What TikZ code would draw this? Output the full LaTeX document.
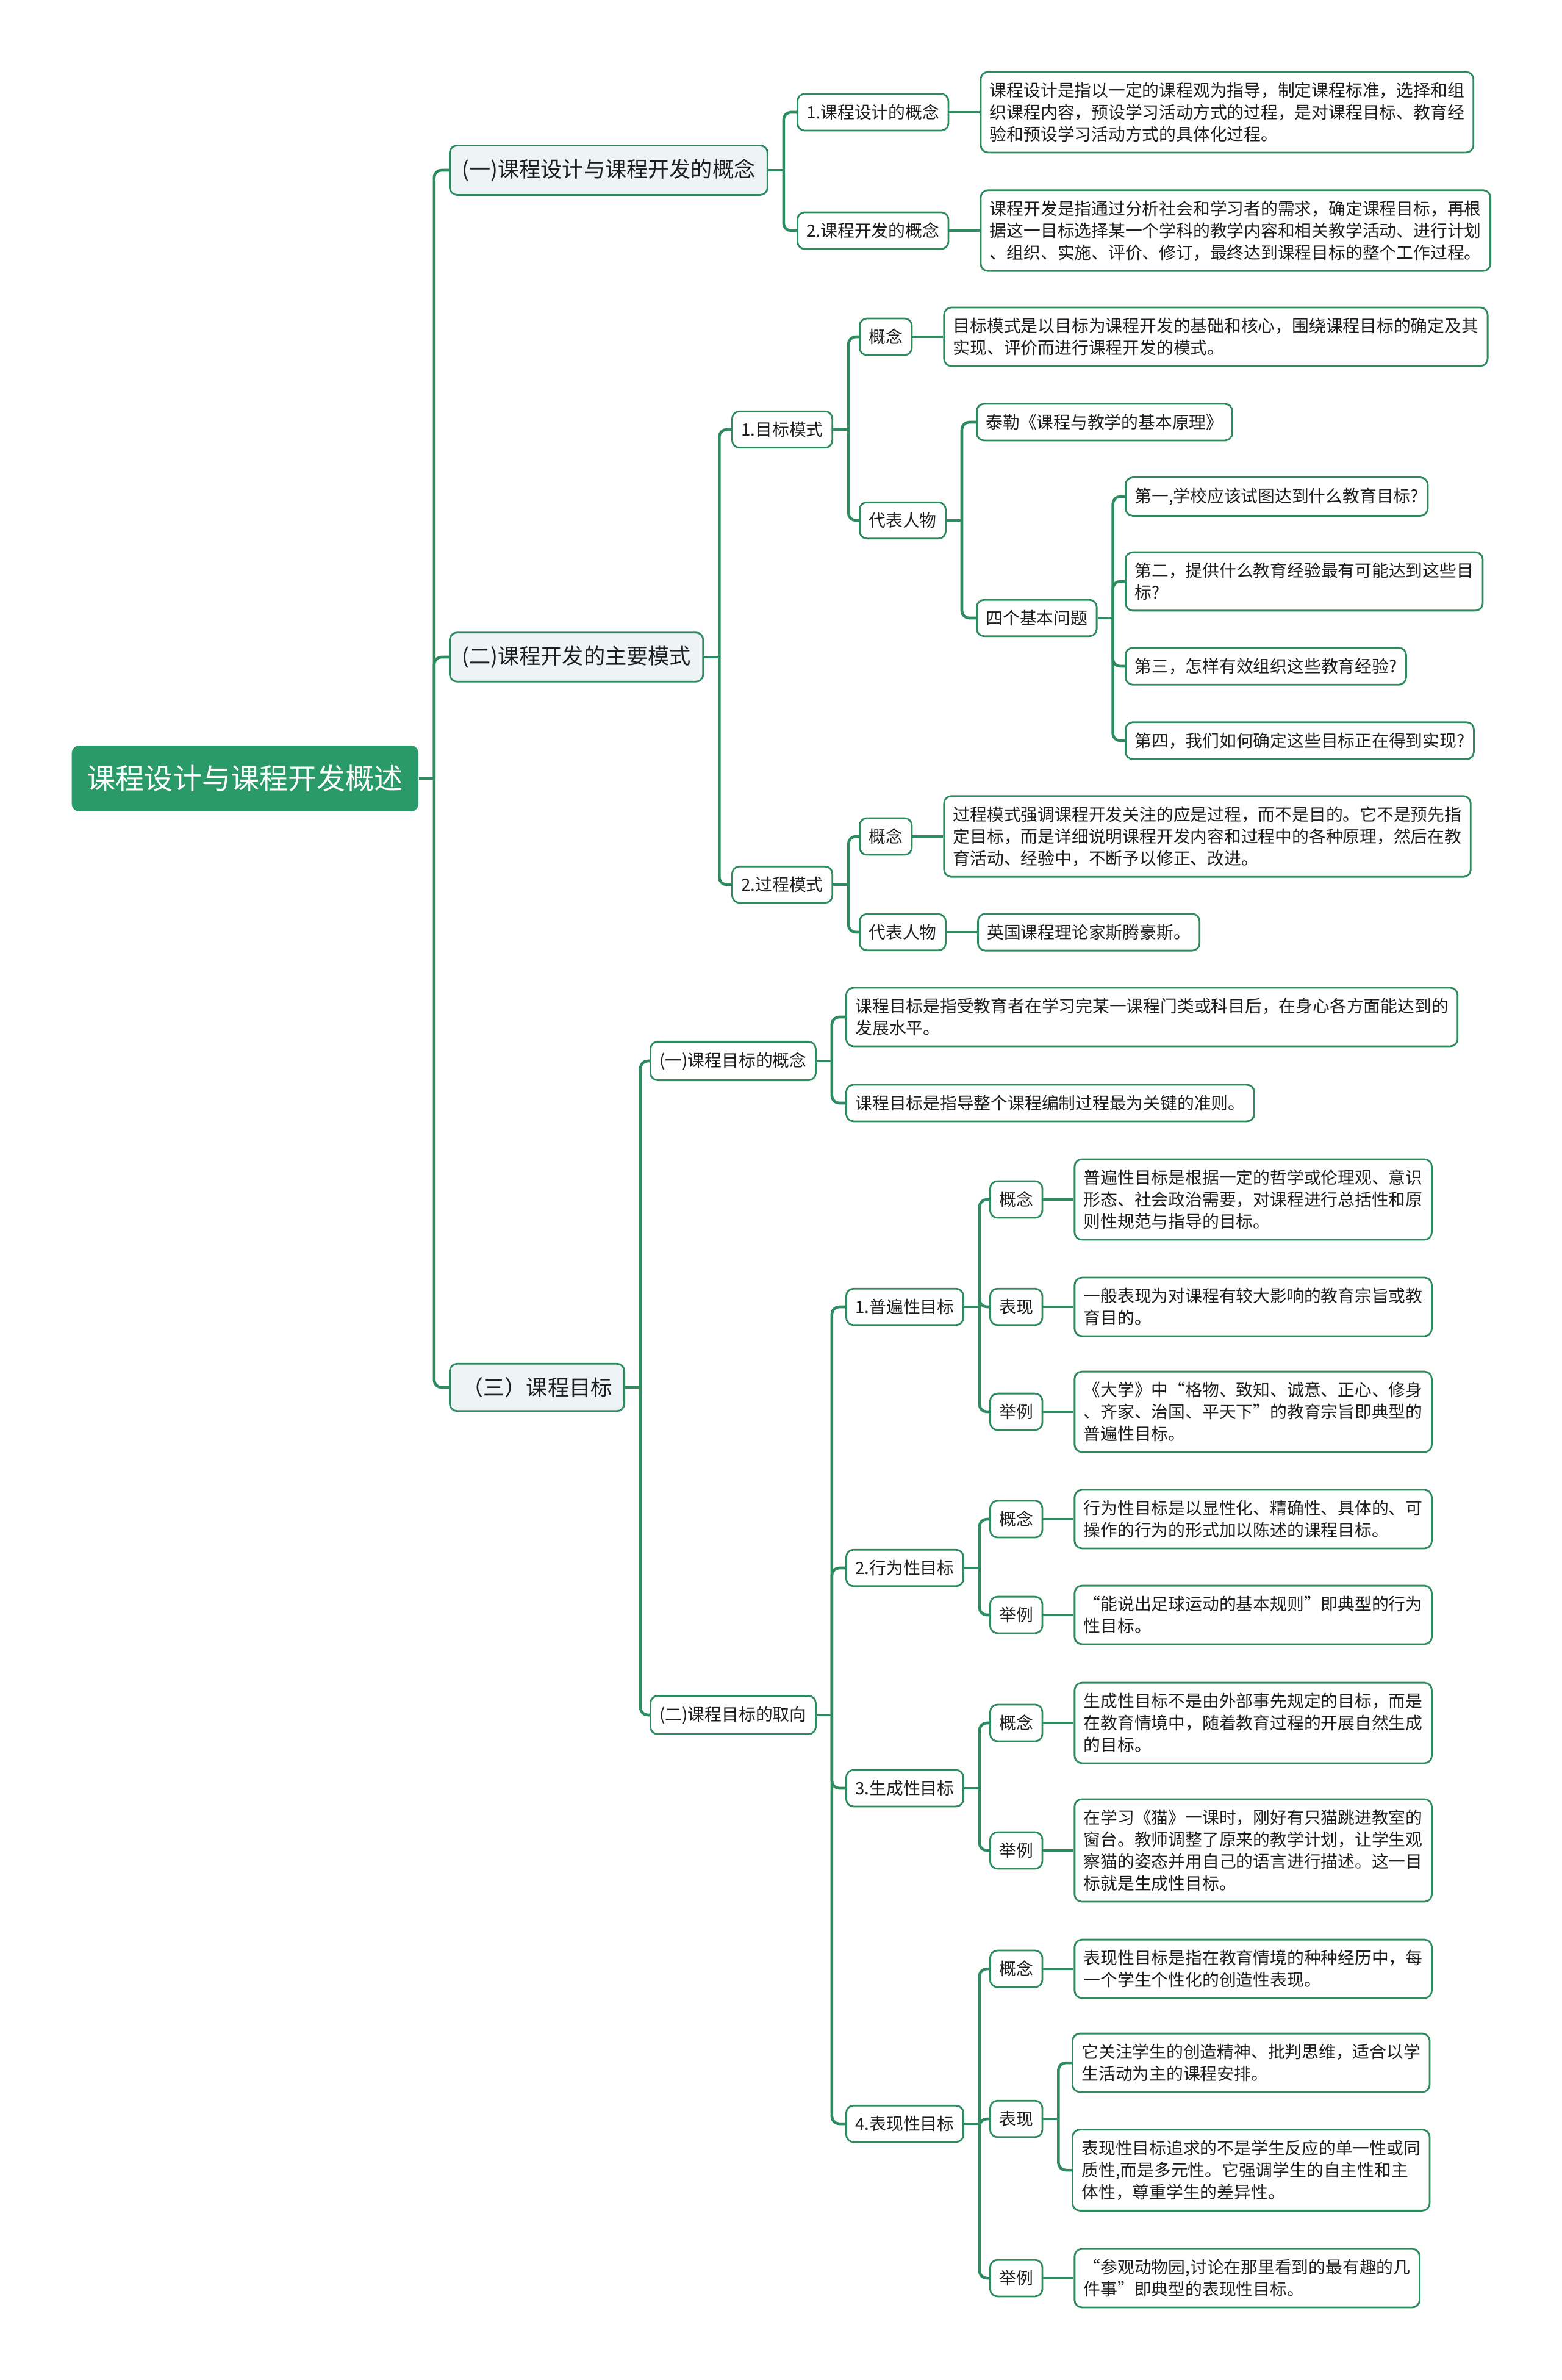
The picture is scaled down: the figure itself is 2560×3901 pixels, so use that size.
\documentclass[tikz,border=0pt]{standalone}
\usepackage{fontspec}
\setmainfont{Noto Sans CJK SC}
\usepackage{tikz}
\usetikzlibrary{positioning}
\definecolor{mapgreen}{HTML}{2E8B60}
\definecolor{rootgreen}{HTML}{2A9A68}
\definecolor{topicfill}{HTML}{EEF3F5}
\definecolor{inkgray}{HTML}{1E1E1E}

\tikzset{
  mapbox/.style={draw=mapgreen, line width=0.8pt, rounded corners=0.12cm, align=left, text=inkgray},
  rootbox/.style={fill=rootgreen, text=white, rounded corners=0.12cm, inner xsep=0.25cm, inner ysep=0.32cm,
    font=\fontsize{13.4pt}{16pt}\selectfont},
  topic/.style={mapbox, fill=topicfill, inner xsep=0.2cm, inner ysep=0.22cm, font=\fontsize{10pt}{12pt}\selectfont},
  leaf/.style={mapbox, fill=white, inner xsep=0.15cm, inner ysep=0.17cm, font=\fontsize{7.9pt}{10.24pt}\selectfont},
  branchline/.style={draw=mapgreen, line width=1.3pt, rounded corners=0.12cm},
}

\begin{document}
\begin{tikzpicture}[x=0.01cm, y=-0.01cm, node distance=0.5cm]
  \useasboundingbox (0,0) rectangle (2560,3901);

  \node[rootbox, anchor=west] (root) at (117,1276) {课程设计与课程开发概述};

  \node[topic, anchor=west] (t1) at (736,279) {(一)课程设计与课程开发的概念};
  \node[topic, anchor=west] (t2) at (736,1077) {(二)课程开发的主要模式};
  \node[topic, anchor=west] (t3) at (736,2274) {（三）课程目标};

  % (一)
  \node[leaf, anchor=west] (d1) at (1306,184) {1.课程设计的概念};
  \node[leaf, right=of d1] (d1x) {课程设计是指以一定的课程观为指导，制定课程标准，选择和组\\织课程内容，预设学习活动方式的过程，是对课程目标、教育经\\验和预设学习活动方式的具体化过程。};
  \node[leaf, anchor=west] (d2) at (1306,378) {2.课程开发的概念};
  \node[leaf, right=of d2] (d2x) {课程开发是指通过分析社会和学习者的需求，确定课程目标，再根\\据这一目标选择某一个学科的教学内容和相关教学活动、进行计划\\、组织、实施、评价、修订，最终达到课程目标的整个工作过程。};

  % (二)
  \node[leaf, anchor=west] (m1) at (1199,704) {1.目标模式};
  \node[leaf, anchor=west] (m1a) at (1408,552) {概念};
  \node[leaf, right=of m1a] (m1ax) {目标模式是以目标为课程开发的基础和核心，围绕课程目标的确定及其\\实现、评价而进行课程开发的模式。};
  \node[leaf, anchor=west] (m1b) at (1408,853) {代表人物};
  \node[leaf, anchor=west] (m1b1) at (1600,692) {泰勒《课程与教学的基本原理》};
  \node[leaf, anchor=west] (m1b2) at (1600,1013) {四个基本问题};
  \node[leaf, anchor=west] (q1) at (1844,814) {第一,学校应该试图达到什么教育目标?};
  \node[leaf, anchor=west] (q2) at (1844,953) {第二，提供什么教育经验最有可能达到这些目\\标?};
  \node[leaf, anchor=west] (q3) at (1844,1092) {第三，怎样有效组织这些教育经验?};
  \node[leaf, anchor=west] (q4) at (1844,1214) {第四，我们如何确定这些目标正在得到实现?};

  \node[leaf, anchor=west] (m2) at (1199,1450) {2.过程模式};
  \node[leaf, anchor=west] (m2a) at (1408,1371) {概念};
  \node[leaf, right=of m2a] (m2ax) {过程模式强调课程开发关注的应是过程，而不是目的。它不是预先指\\定目标，而是详细说明课程开发内容和过程中的各种原理，然后在教\\育活动、经验中，不断予以修正、改进。};
  \node[leaf, anchor=west] (m2b) at (1408,1528) {代表人物};
  \node[leaf, right=of m2b] (m2bx) {英国课程理论家斯腾豪斯。};

  % (三)
  \node[leaf, anchor=west] (g1) at (1065,1739) {(一)课程目标的概念};
  \node[leaf, anchor=west] (g1a) at (1386,1667) {课程目标是指受教育者在学习完某一课程门类或科目后，在身心各方面能达到的\\发展水平。};
  \node[leaf, anchor=west] (g1b) at (1386,1808) {课程目标是指导整个课程编制过程最为关键的准则。};

  \node[leaf, anchor=west] (g2) at (1065,2811) {(二)课程目标的取向};
  \node[leaf, anchor=west] (o1) at (1386,2142) {1.普遍性目标};
  \node[leaf, anchor=west] (o1a) at (1622,1966) {概念};
  \node[leaf, right=of o1a] (o1ax) {普遍性目标是根据一定的哲学或伦理观、意识\\形态、社会政治需要，对课程进行总括性和原\\则性规范与指导的目标。};
  \node[leaf, anchor=west] (o1b) at (1622,2142) {表现};
  \node[leaf, right=of o1b] (o1bx) {一般表现为对课程有较大影响的教育宗旨或教\\育目的。};
  \node[leaf, anchor=west] (o1c) at (1622,2314) {举例};
  \node[leaf, right=of o1c] (o1cx) {《大学》中“格物、致知、诚意、正心、修身\\、齐家、治国、平天下”的教育宗旨即典型的\\普遍性目标。};

  \node[leaf, anchor=west] (o2) at (1386,2570) {2.行为性目标};
  \node[leaf, anchor=west] (o2a) at (1622,2490) {概念};
  \node[leaf, right=of o2a] (o2ax) {行为性目标是以显性化、精确性、具体的、可\\操作的行为的形式加以陈述的课程目标。};
  \node[leaf, anchor=west] (o2b) at (1622,2647) {举例};
  \node[leaf, right=of o2b] (o2bx) {“能说出足球运动的基本规则”即典型的行为\\性目标。};

  \node[leaf, anchor=west] (o3) at (1386,2931) {3.生成性目标};
  \node[leaf, anchor=west] (o3a) at (1622,2824) {概念};
  \node[leaf, right=of o3a] (o3ax) {生成性目标不是由外部事先规定的目标，而是\\在教育情境中，随着教育过程的开展自然生成\\的目标。};
  \node[leaf, anchor=west] (o3b) at (1622,3033) {举例};
  \node[leaf, right=of o3b] (o3bx) {在学习《猫》一课时，刚好有只猫跳进教室的\\窗台。教师调整了原来的教学计划，让学生观\\察猫的姿态并用自己的语言进行描述。这一目\\标就是生成性目标。};

  \node[leaf, anchor=west] (o4) at (1386,3481) {4.表现性目标};
  \node[leaf, anchor=west] (o4a) at (1622,3227) {概念};
  \node[leaf, right=of o4a] (o4ax) {表现性目标是指在教育情境的种种经历中，每\\一个学生个性化的创造性表现。};
  \node[leaf, anchor=west] (o4b) at (1622,3473) {表现};
  \node[leaf, anchor=west] (o4b1) at (1757,3381) {它关注学生的创造精神、批判思维，适合以学\\生活动为主的课程安排。};
  \node[leaf, anchor=west] (o4b2) at (1757,3557) {表现性目标追求的不是学生反应的单一性或同\\质性,而是多元性。它强调学生的自主性和主\\体性，尊重学生的差异性。};
  \node[leaf, anchor=west] (o4c) at (1622,3734) {举例};
  \node[leaf, right=of o4c] (o4cx) {“参观动物园,讨论在那里看到的最有趣的几\\件事”即典型的表现性目标。};

  % branches
  \foreach \p/\cs in {root/{t1,t2,t3}, t1/{d1,d2}, t2/{m1,m2}, m1/{m1a,m1b}, m1b/{m1b1,m1b2},
      m1b2/{q1,q2,q3,q4}, m2/{m2a,m2b}, t3/{g1,g2}, g1/{g1a,g1b}, g2/{o1,o2,o3,o4},
      o1/{o1a,o1b,o1c}, o2/{o2a,o2b}, o3/{o3a,o3b}, o4/{o4a,o4b,o4c}, o4b/{o4b1,o4b2}} {
    \draw[branchline] (\p.east) -- ++(25,0);
    \foreach \c in \cs
      \draw[branchline] (\p.east) ++(25,0) |- (\c.west);
  }
  \foreach \a/\b in {d1/d1x, d2/d2x, m1a/m1ax, m2a/m2ax, m2b/m2bx, o1a/o1ax, o1b/o1bx, o1c/o1cx,
      o2a/o2ax, o2b/o2bx, o3a/o3ax, o3b/o3bx, o4a/o4ax, o4c/o4cx}
    \draw[branchline] (\a.east) -- (\b.west);
\end{tikzpicture}
\end{document}
